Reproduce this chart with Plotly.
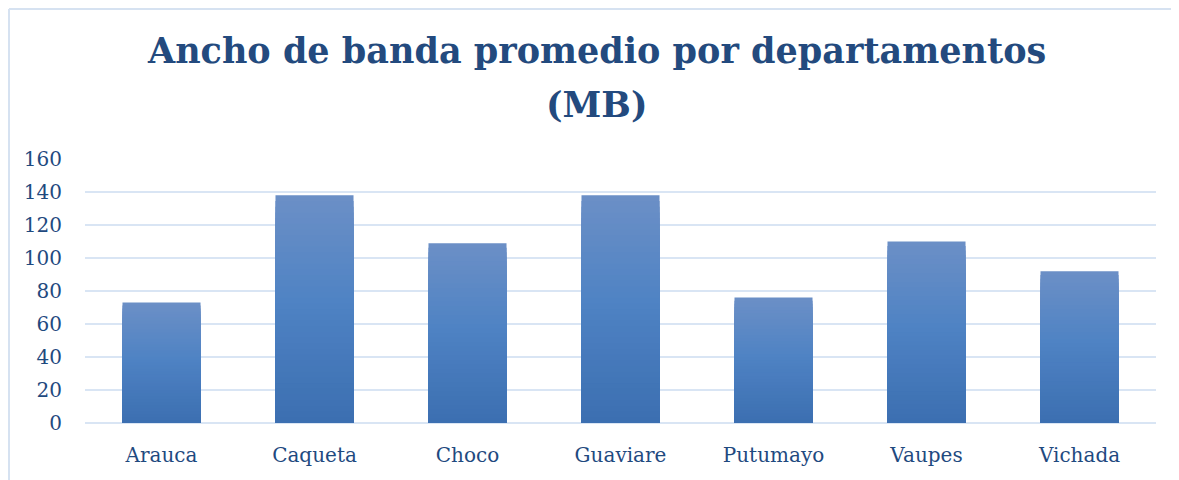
import plotly.graph_objects as go

# Data
departamentos = ['Arauca', 'Caqueta', 'Choco', 'Guaviare', 'Putumayo', 'Vaupes', 'Vichada']
ancho_banda = [73, 138, 109, 138, 76, 110, 92]
y_ticks = [0, 20, 40, 60, 80, 100, 120, 140, 160]
titulo = ['Ancho de banda promedio por departamentos', '(MB)']

TEXT_COLOR = '#1f4a7f'
TITLE_COLOR = '#234a7e'
GRID_COLOR = '#d9e5f4'

# the page adds an 8px body margin, so the figure is a little smaller
W, H = 1171, 472
M_L, M_R, M_T, M_B = 77, 23, 151, 57
PLOT_W = W - M_L - M_R
PLOT_H = H - M_T - M_B


def hex_to_rgb(h):
    h = h.lstrip('#')
    return [int(h[i:i + 2], 16) for i in (0, 2, 4)]


def blend(c1, c2, t):
    a, b = hex_to_rgb(c1), hex_to_rgb(c2)
    return 'rgb({},{},{})'.format(*[round(a[i] + (b[i] - a[i]) * t) for i in range(3)])


def gradient_color(p):
    # p = relative height inside the bar (0 bottom, 1 top)
    if p >= 0.55:
        return blend('#4f83c4', '#6b8fc6', (p - 0.55) / 0.45)
    return blend('#3b6eb0', '#4f83c4', p / 0.55)


def paper_y(px_from_top):
    return 1 + (M_T - px_from_top) / PLOT_H


def paper_x(px_from_left):
    return (px_from_left - M_L) / PLOT_W


fig = go.Figure()

# Overlaid bars of decreasing height to imitate the vertical gradient fill
n_steps = 40
for k in range(n_steps):
    frac = 1 - k / n_steps
    fig.add_trace(go.Bar(
        x=departamentos,
        y=[v * frac for v in ancho_banda],
        marker=dict(color=gradient_color(frac), line=dict(width=0)),
        width=0.51,
        hoverinfo='skip' if k else 'x+y',
        showlegend=False
    ))

title_font = dict(family='DejaVu Serif', size=35, color=TITLE_COLOR)

fig.update_layout(
    barmode='overlay',
    width=W,
    height=H,
    paper_bgcolor='white',
    plot_bgcolor='white',
    margin=dict(l=M_L, r=M_R, t=M_T, b=M_B),
    font=dict(family='DejaVu Serif', size=20, color=TEXT_COLOR),
    xaxis=dict(
        showgrid=False,
        showline=False,
        ticks='',
        ticklabelstandoff=18,
        tickfont=dict(size=20, color=TEXT_COLOR)
    ),
    yaxis=dict(
        range=[0, 160],
        tickvals=y_ticks,
        showgrid=True,
        gridcolor=GRID_COLOR,
        gridwidth=2,
        zeroline=True,
        zerolinecolor=GRID_COLOR,
        zerolinewidth=2,
        showline=False,
        ticks='',
        ticklabelstandoff=22,
        tickfont=dict(size=20, color=TEXT_COLOR)
    ),
    annotations=[
        dict(text='<b>%s</b>' % titulo[0], xref='paper', yref='paper',
             x=paper_x(588), y=paper_y(42), xanchor='center', yanchor='middle',
             showarrow=False, font=title_font),
        dict(text='<b>%s</b>' % titulo[1], xref='paper', yref='paper',
             x=paper_x(588), y=paper_y(97), xanchor='center', yanchor='middle',
             showarrow=False, font=title_font),
    ],
    shapes=[
        # chart frame (top and left edges)
        dict(type='line', xref='paper', yref='paper',
             x0=paper_x(1), x1=paper_x(W + 5), y0=paper_y(1), y1=paper_y(1),
             line=dict(color='#d6e2f1', width=2)),
        dict(type='line', xref='paper', yref='paper',
             x0=paper_x(1), x1=paper_x(1), y0=paper_y(H + 5), y1=paper_y(1),
             line=dict(color='#d6e2f1', width=2)),
    ]
)

fig.write_html('out.html')
